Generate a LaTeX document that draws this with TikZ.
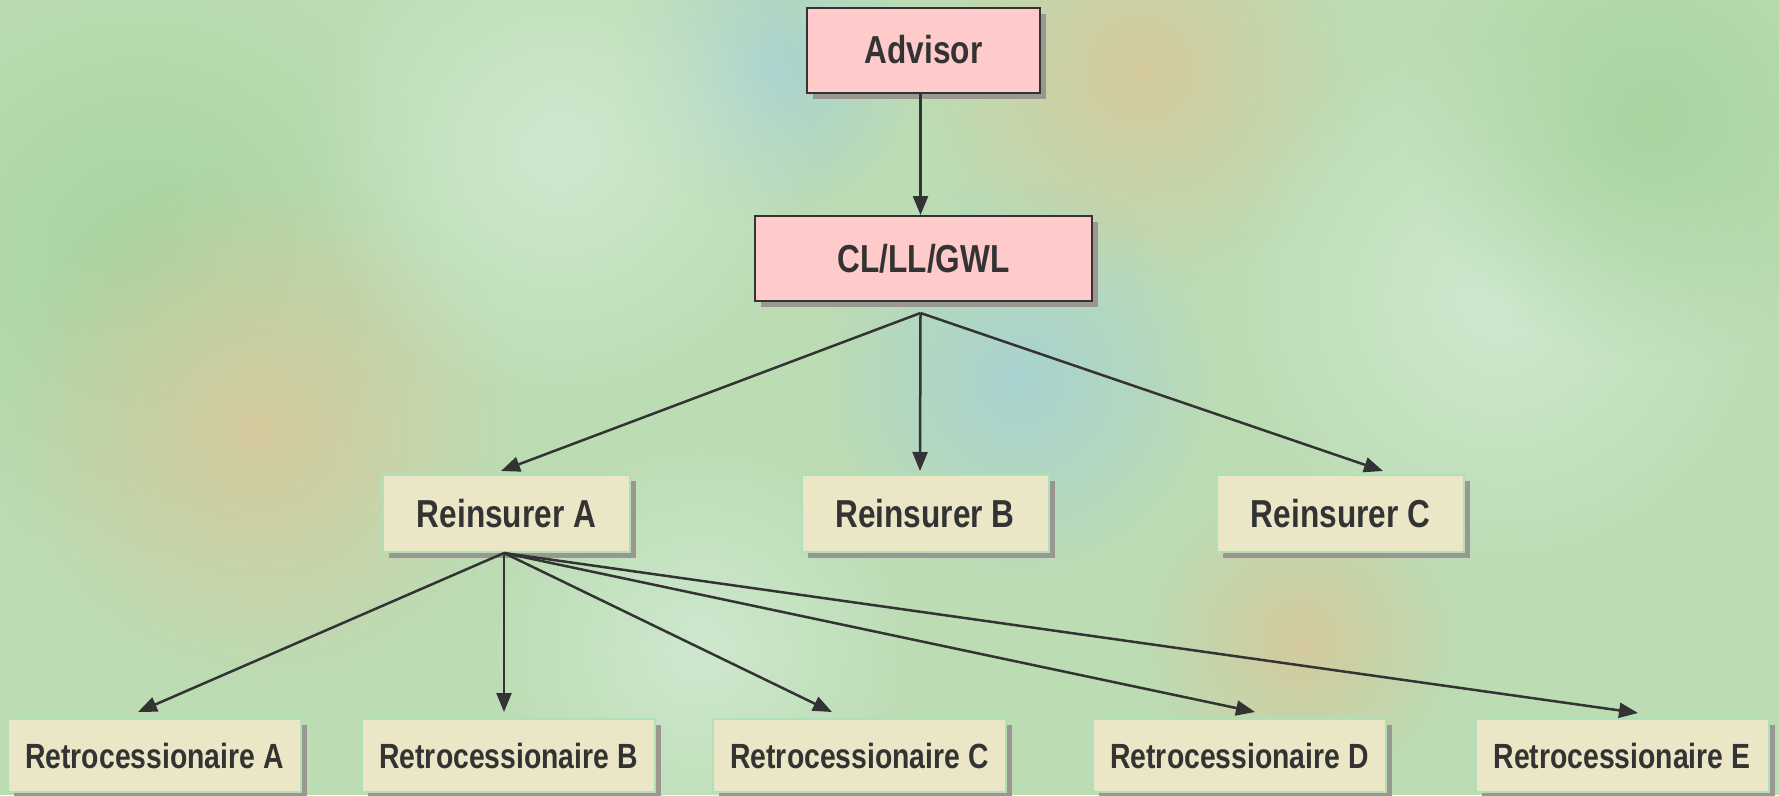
\documentclass[tikz,border=0pt]{standalone}
\usepackage{fontspec}
\setmainfont{Liberation Sans}[FakeStretch=0.81]
\usetikzlibrary{arrows.meta,shadows,fadings}
\definecolor{bgcol}{HTML}{BCDCB4}
\definecolor{tanc}{HTML}{D4CA9C}
\definecolor{bluec}{HTML}{A8D2D0}
\definecolor{lightc}{HTML}{CEE8CE}
\definecolor{darkg}{HTML}{A8D4A0}
\definecolor{pinkc}{HTML}{FFCACA}
\definecolor{beigec}{HTML}{EAE6C6}
\definecolor{edgeg}{HTML}{B0E0B8}
\definecolor{shadc}{HTML}{9A9690}
\definecolor{inkc}{HTML}{333333}
\tikzfading[name=softblob,inner color=transparent!0,outer color=transparent!100]
\begin{document}
\begin{tikzpicture}[x=1pt,y=-1pt,
  blob/.style={path fading=softblob},
  boxbase/.style={rectangle,inner sep=0pt,text=inkc,line width=2pt,
    general shadow={fill=shadc,shadow xshift=6pt,shadow yshift=-6pt}},
  topbox/.style={boxbase,draw=inkc,fill=pinkc,minimum height=85pt,font=\bfseries\fontsize{39}{44}\selectfont},
  midbox/.style={boxbase,draw=edgeg,fill=beigec,minimum width=247pt,minimum height=77pt,font=\bfseries\fontsize{39}{44}\selectfont},
  lowbox/.style={boxbase,draw=edgeg,fill=beigec,minimum width=293pt,minimum height=73pt,font=\bfseries\fontsize{35}{40}\selectfont},
  arr/.style={draw=inkc,line width=2.5pt,-{Triangle[length=19pt,width=15pt]}}]
\useasboundingbox (0,0) rectangle (1779,795);
% background
\fill[bgcol] (0,0) rectangle (1779,795);
\fill[darkg,blob] (140,250) circle[radius=300pt];
\fill[tanc,blob] (260,430) circle[radius=260pt];
\fill[tanc,blob] (1140,70) circle[radius=220pt];
\fill[bluec,blob] (770,70) circle[radius=150pt];
\fill[lightc,blob] (560,150) circle[radius=260pt];
\fill[bluec,blob] (1020,380) circle[radius=200pt];
\fill[lightc,blob] (1500,300) circle[radius=280pt];
\fill[tanc,blob] (1300,640) circle[radius=160pt];
\fill[darkg,blob] (1650,120) circle[radius=240pt];
\fill[lightc,blob] (700,650) circle[radius=220pt];
% nodes
\node[topbox,minimum width=233pt] (adv) at (923.5,50) {Advisor};
\node[topbox,minimum width=337pt] (cl) at (923.5,258.5) {CL/LL/GWL};
\node[midbox] (ra) at (506.5,513.5) {Reinsurer A};
\node[midbox] (rb) at (925,513.5) {Reinsurer B};
\node[midbox] (rc) at (1340.5,513.5) {Reinsurer C};
\node[lowbox] (ta) at (154.5,755.5) {Retrocessionaire A};
\node[lowbox] (tb) at (508.5,755.5) {Retrocessionaire B};
\node[lowbox] (tc) at (859.5,755.5) {Retrocessionaire C};
\node[lowbox] (td) at (1239.5,755.5) {Retrocessionaire D};
\node[lowbox] (te) at (1622,755.5) {Retrocessionaire E};
% connectors
\draw[arr] ([xshift=-3pt]adv.south) -- ([xshift=-3pt]cl.north);
\coordinate (o1) at ([xshift=-3pt,yshift=-11pt]cl.south);
\draw[arr] (o1) -- ([xshift=-5.5pt,yshift=3pt]ra.north);
\draw[arr] (o1) -- ([xshift=-5pt,yshift=3pt]rb.north);
\draw[arr] (o1) -- ([xshift=42.5pt,yshift=3pt]rc.north);
\coordinate (o2) at ([xshift=-2.5pt]ra.south);
\draw[arr] (o2) -- ([xshift=-16.5pt,yshift=6pt]ta.north);
\draw[arr] (o2) -- ([xshift=-4.5pt,yshift=6pt]tb.north);
\draw[arr] (o2) -- ([xshift=-27.5pt,yshift=6pt]tc.north);
\draw[arr] (o2) -- ([xshift=15.5pt,yshift=6pt]td.north);
\draw[arr] (o2) -- ([xshift=16pt,yshift=5pt]te.north);
\end{tikzpicture}
\end{document}
